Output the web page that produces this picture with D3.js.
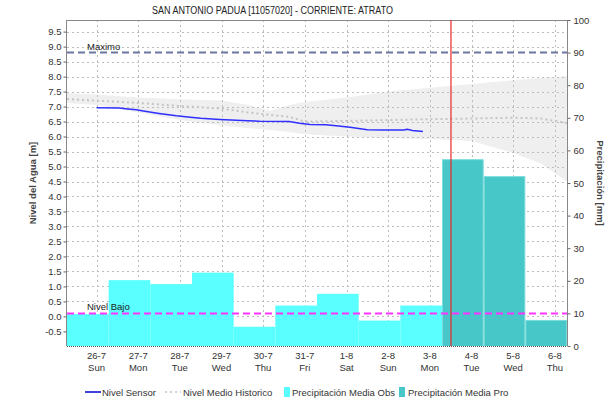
<!DOCTYPE html>
<html>
<head>
<meta charset="utf-8">
<script src="https://cdn.jsdelivr.net/npm/d3@7"></script>
<style>
  body { margin: 0; background: #fff; }
  svg { font-family: "Liberation Sans", Arial, sans-serif; }
</style>
</head>
<body>
<div class="viz-container"></div>
<script>
// ---- data ----
let dayTicks = ["2020-07-26","2020-07-27","2020-07-28","2020-07-29","2020-07-30","2020-07-31",
                "2020-08-01","2020-08-02","2020-08-03","2020-08-04","2020-08-05","2020-08-06"];
let dayLabels = ["26-7","27-7","28-7","29-7","30-7","31-7","1-8","2-8","3-8","4-8","5-8","6-8"];
let weekDays = ["Sun","Mon","Tue","Wed","Thu","Fri","Sat","Sun","Mon","Tue","Wed","Thu"];

let levelTicks = [-0.5,0,0.5,1,1.5,2,2.5,3,3.5,4,4.5,5,5.5,6,6.5,7,7.5,8,8.5,9,9.5];
let precipTicks = [0,10,20,30,40,50,60,70,80,90,100];

// daily precipitation, each bar from 07:00 to 07:00 next day
let obsStarts = ["2020-07-25T07:00","2020-07-26T07:00","2020-07-27T07:00","2020-07-28T07:00",
                 "2020-07-29T07:00","2020-07-30T07:00","2020-07-31T07:00","2020-08-01T07:00",
                 "2020-08-02T07:00"];
let obsPrecip = [9.8, 20.2, 19.0, 22.5, 5.9, 12.4, 16.0, 7.8, 12.4];
let proStarts = ["2020-08-03T07:00","2020-08-04T07:00","2020-08-05T07:00"];
let proPrecip = [57.3, 52.1, 8.0];

// water level sensor
let sensorTimes = ["2020-07-26T00:00","2020-07-26T13:00","2020-07-26T18:00","2020-07-26T23:00",
  "2020-07-27T03:00","2020-07-27T12:00","2020-07-27T22:00","2020-07-28T06:00","2020-07-28T12:00",
  "2020-07-28T23:00","2020-07-29T15:00","2020-07-29T22:00","2020-07-30T15:00","2020-07-30T21:00",
  "2020-07-31T03:00","2020-07-31T12:00","2020-07-31T18:00","2020-08-01T02:00","2020-08-01T12:00",
  "2020-08-01T21:00","2020-08-02T09:00","2020-08-02T11:00","2020-08-02T14:00","2020-08-02T20:00"];
let sensorLevels = [6.96,6.95,6.92,6.89,6.85,6.77,6.69,6.64,6.61,6.57,6.53,6.51,6.50,6.44,
  6.40,6.39,6.36,6.31,6.23,6.22,6.22,6.24,6.20,6.17];

// historical mean level and its range
let histTimes = ["2020-07-25T07:00","2020-07-26T00:00","2020-07-27T00:00","2020-07-28T00:00",
  "2020-07-29T00:00","2020-07-29T16:00","2020-07-30T04:00","2020-07-30T15:00","2020-07-31T00:00",
  "2020-08-01T00:00","2020-08-02T00:00","2020-08-03T00:00","2020-08-04T00:00","2020-08-05T00:00",
  "2020-08-05T16:00","2020-08-06T07:00"];
let histMean = [7.25,7.20,7.12,7.02,6.93,6.80,6.72,6.66,6.50,6.52,6.55,6.58,6.60,6.63,6.60,6.45];
let histHigh = [7.45,7.40,7.30,7.24,7.20,7.05,6.85,7.05,7.15,7.30,7.50,7.63,7.75,7.88,7.95,8.02];
let histLow  = [7.12,7.05,6.80,6.55,6.38,6.28,6.22,6.15,6.08,6.00,5.95,5.92,5.85,5.45,5.10,4.50];

let levelMax = 8.8;
let levelLow = 0.1;
let nowTime = "2020-08-03T12:10";
let timeStart = "2020-07-25T07:00";
let timeEnd = "2020-08-06T07:00";

// ---- layout ----
let W = 608, H = 404;
let pLeft = 67, pRight = 567, pTop = 20, pBottom = 346;

let parseT = d3.timeParse("%Y-%m-%dT%H:%M");
let parseD = d3.timeParse("%Y-%m-%d");

let x = d3.scaleTime().domain([parseT(timeStart), parseT(timeEnd)]).range([pLeft, pRight]);
let yL = d3.scaleLinear().domain([-0.9875, 9.8875]).range([pBottom, pTop]);
let yP = d3.scaleLinear().domain([0, 100]).range([pBottom, pTop]);

let viz = d3.select(".viz-container")
  .append("svg")
    .attr("width", W)
    .attr("height", H);

viz.append("defs").append("clipPath").attr("id","plotclip")
  .append("rect").attr("x",pLeft).attr("y",pTop).attr("width",pRight-pLeft).attr("height",pBottom-pTop);

let plot = viz.append("g").attr("clip-path","url(#plotclip)");

// historic band
let hist = histTimes.map((t,i) => ({t: parseT(t), m: histMean[i], hi: histHigh[i], lo: histLow[i]}));
plot.append("path")
  .datum(hist)
  .attr("d", d3.area().x(d => x(d.t)).y0(d => yL(d.lo)).y1(d => yL(d.hi)))
  .attr("fill", "#efefef");

// gridlines
plot.selectAll(".hgrid").data(levelTicks).enter()
  .append("line")
    .attr("x1", pLeft).attr("x2", pRight)
    .attr("y1", d => Math.round(yL(d)) + 0.5).attr("y2", d => Math.round(yL(d)) + 0.5)
    .attr("stroke", "#bdbdbd").attr("stroke-dasharray", "2,3");
plot.selectAll(".vgrid").data(dayTicks).enter()
  .append("line")
    .attr("x1", d => Math.round(x(parseD(d))) + 0.5).attr("x2", d => Math.round(x(parseD(d))) + 0.5)
    .attr("y1", pTop).attr("y2", pBottom)
    .attr("stroke", "#bdbdbd").attr("stroke-dasharray", "2,3");

// precipitation bars
let obs = obsStarts.map((s,i) => ({s: parseT(s), v: obsPrecip[i]}));
let pro = proStarts.map((s,i) => ({s: parseT(s), v: proPrecip[i]}));

plot.selectAll(".obs").data(obs).enter()
  .append("rect")
    .attr("x", d => x(d.s))
    .attr("y", d => yP(d.v))
    .attr("width", d => x(d3.timeDay.offset(d.s, 1)) - x(d.s))
    .attr("height", d => yP(0) - yP(d.v))
    .attr("fill", "#5affff");
plot.selectAll(".pro").data(pro).enter()
  .append("rect")
    .attr("x", d => x(d.s) + 0.5)
    .attr("y", d => yP(d.v) + 0.5)
    .attr("width", d => x(d3.timeDay.offset(d.s, 1)) - x(d.s) - 1)
    .attr("height", d => yP(0) - yP(d.v))
    .attr("fill", "#47c7c7")
    .attr("stroke", "#7adcdc")
    .attr("stroke-width", 1);

// historic mean line
plot.append("path")
  .datum(hist)
  .attr("d", d3.line().x(d => x(d.t)).y(d => yL(d.m)))
  .attr("fill", "none")
  .attr("stroke", "#c4c4c4")
  .attr("stroke-width", 2)
  .attr("stroke-dasharray", "2,3");

// sensor
let sensor = sensorTimes.map((t,i) => ({t: parseT(t), v: sensorLevels[i]}));
plot.append("path")
  .datum(sensor)
  .attr("d", d3.line().x(d => x(d.t)).y(d => yL(d.v)))
  .attr("fill", "none")
  .attr("stroke", "#2f2fff")
  .attr("stroke-width", 1.5);

// threshold lines
plot.append("line")
  .attr("x1", pLeft).attr("x2", pRight)
  .attr("y1", yL(levelMax)).attr("y2", yL(levelMax))
  .attr("stroke", "#6b77a0").attr("stroke-width", 2).attr("stroke-dasharray", "7,4");
plot.append("line")
  .attr("x1", pLeft).attr("x2", pRight)
  .attr("y1", yL(levelLow)).attr("y2", yL(levelLow))
  .attr("stroke", "#ff33ff").attr("stroke-width", 2).attr("stroke-dasharray", "7,4");

viz.append("text").attr("x", 87).attr("y", yL(levelMax) - 3)
  .attr("font-size", 9.5).attr("fill", "#222").text("Maximo");
viz.append("text").attr("x", 87).attr("y", yL(levelLow) - 3)
  .attr("font-size", 9.5).attr("fill", "#222").text("Nivel Bajo");

// frame
viz.append("line").attr("x1", pLeft).attr("x2", pRight).attr("y1", pTop + 0.5).attr("y2", pTop + 0.5)
  .attr("stroke", "#888");
viz.append("line").attr("x1", pLeft).attr("x2", pRight).attr("y1", pBottom + 0.5).attr("y2", pBottom + 0.5)
  .attr("stroke", "#555").attr("stroke-dasharray", "1,1");

// now line
let nowX = x(parseT(nowTime));
viz.append("line")
  .attr("x1", nowX).attr("x2", nowX)
  .attr("y1", pTop).attr("y2", pBottom)
  .attr("stroke", "#e8282c").attr("stroke-width", 1.2);

// axes
let leftAxis = viz.append("g")
  .attr("transform", "translate(" + (pLeft - 0.5) + ",0)")
  .call(d3.axisLeft(yL).tickValues(levelTicks).tickFormat(d => d.toFixed(1)).tickSize(3).tickPadding(2));
let rightAxis = viz.append("g")
  .attr("transform", "translate(" + (pRight + 0.5) + ",0)")
  .call(d3.axisRight(yP).tickValues(precipTicks).tickSize(3).tickPadding(3));
[leftAxis, rightAxis].forEach(a => {
  a.selectAll("path").attr("stroke", "#888").attr("d", "M0," + pTop + "V" + pBottom);
  a.selectAll("line").attr("stroke", "#666");
  a.selectAll("text").attr("font-size", 9.5).attr("fill", "#333")
    .attr("font-family", "'Liberation Sans', Arial, sans-serif");
});

let xl = viz.selectAll(".xlab").data(dayTicks).enter()
  .append("text")
    .attr("x", d => x(parseD(d)))
    .attr("text-anchor", "middle")
    .attr("font-size", 9.5)
    .attr("fill", "#333");
xl.append("tspan").attr("x", d => x(parseD(d))).attr("y", 359).text((d,i) => dayLabels[i]);
xl.append("tspan").attr("x", d => x(parseD(d))).attr("y", 371).text((d,i) => weekDays[i]);

// titles
viz.append("text").attr("x", 152).attr("y", 14)
  .attr("font-size", 10).attr("fill", "#222")
  .attr("textLength", 241).attr("lengthAdjust", "spacingAndGlyphs")
  .text("SAN ANTONIO PADUA [11057020] - CORRIENTE: ATRATO");
viz.append("text")
  .attr("transform", "translate(36," + ((pTop + pBottom) / 2) + ") rotate(-90)")
  .attr("text-anchor", "middle").attr("font-size", 9.5).attr("font-weight", "bold").attr("fill", "#444")
  .text("Nivel del Agua [m]");
viz.append("text")
  .attr("transform", "translate(597," + ((pTop + pBottom) / 2) + ") rotate(90)")
  .attr("text-anchor", "middle").attr("font-size", 9.5).attr("font-weight", "bold").attr("fill", "#444")
  .text("Precipitación [mm]");

// legend
let ly = 392;
let lg = viz.append("g").attr("font-size", 9.5).attr("fill", "#333");
lg.append("line").attr("x1", 85).attr("x2", 101).attr("y1", ly).attr("y2", ly)
  .attr("stroke", "#0000cc").attr("stroke-width", 1.5);
lg.append("text").attr("x", 102).attr("y", ly + 3.5).text("Nivel Sensor");
lg.append("line").attr("x1", 165).attr("x2", 181).attr("y1", ly).attr("y2", ly)
  .attr("stroke", "#c4c4c4").attr("stroke-width", 1.5).attr("stroke-dasharray", "2,3");
lg.append("text").attr("x", 183).attr("y", ly + 3.5).text("Nivel Medio Historico");
lg.append("rect").attr("x", 284).attr("y", ly - 5).attr("width", 6).attr("height", 10).attr("fill", "#5affff");
lg.append("text").attr("x", 292).attr("y", ly + 3.5).text("Precipitación Media Obs");
lg.append("rect").attr("x", 399).attr("y", ly - 5).attr("width", 6).attr("height", 10).attr("fill", "#47c7c7");
lg.append("text").attr("x", 408).attr("y", ly + 3.5).text("Precipitación Media Pro");
</script>
</body>
</html>
